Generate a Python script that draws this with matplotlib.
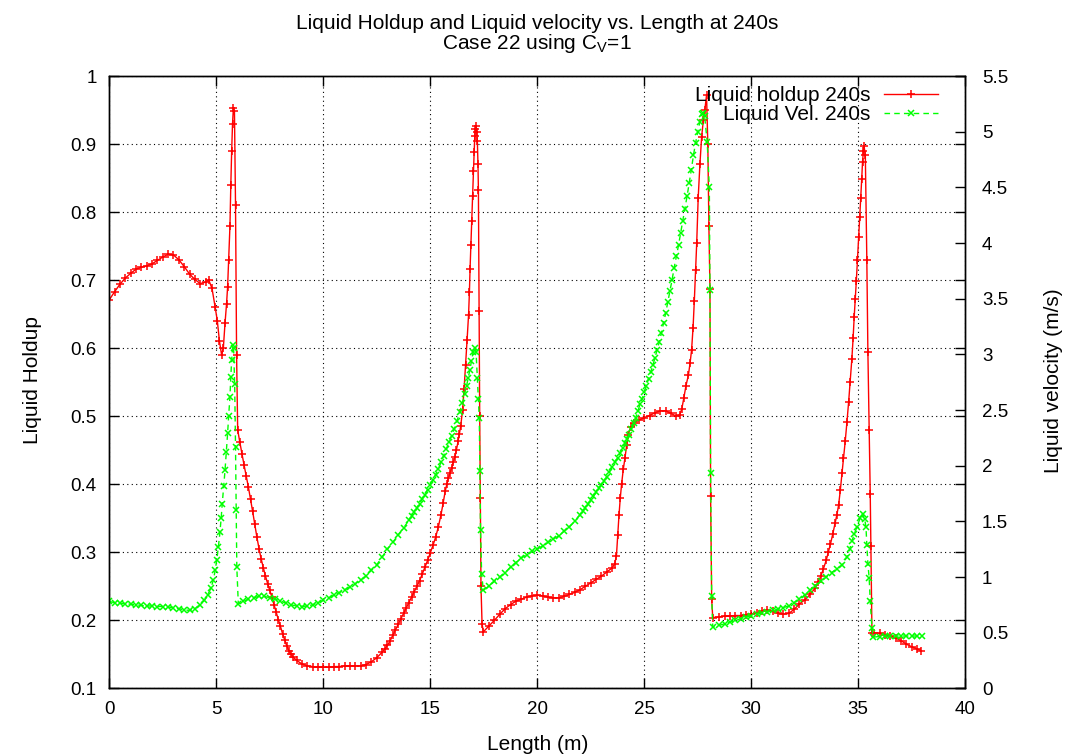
import numpy as np
import matplotlib
matplotlib.use("Agg")
import matplotlib.pyplot as plt
from matplotlib.ticker import FuncFormatter, MultipleLocator

plt.rcParams['font.family'] = ['Liberation Sans', 'DejaVu Sans']
plt.rcParams['mathtext.fontset'] = 'custom'
plt.rcParams['mathtext.rm'] = 'Liberation Sans'

# liquid holdup at 240s (left axis)
x_hold = [0.0, 0.25, 0.5, 0.75, 1.0, 1.25, 1.5, 1.75, 2.0, 2.25, 2.5, 2.75, 3.0, 3.25, 3.5, 3.75,
          4.0, 4.25, 4.5, 4.65, 4.8, 4.95, 5.05, 5.15, 5.25, 5.33, 5.41, 5.48, 5.53, 5.58, 5.64,
          5.68, 5.72, 5.76, 5.80, 5.85, 5.90, 5.95, 6.0, 6.1, 6.2, 6.3, 6.4, 6.5, 6.6, 6.7, 6.8,
          6.9, 7.0, 7.1, 7.2, 7.3, 7.4, 7.5, 7.6, 7.7, 7.8, 7.9, 8.0, 8.1, 8.2, 8.3, 8.4, 8.5,
          8.6, 8.75, 9.0, 9.25, 9.5, 9.75, 10.0, 10.25, 10.5, 10.75, 11.0, 11.25, 11.5, 11.75,
          12.0, 12.25, 12.5, 12.75, 12.875, 13.0, 13.125, 13.25, 13.375, 13.5, 13.625, 13.75,
          13.875, 14.0, 14.125, 14.25, 14.375, 14.5, 14.625, 14.75, 14.875, 15.0, 15.125, 15.25,
          15.375, 15.5, 15.6, 15.7, 15.775, 15.85, 15.925, 16.0, 16.075, 16.15, 16.225, 16.3,
          16.36, 16.42, 16.51, 16.58, 16.65, 16.72, 16.79, 16.83, 16.86, 16.9, 16.94, 16.98,
          17.02, 17.05, 17.08, 17.11, 17.14, 17.17, 17.20, 17.23, 17.25, 17.28, 17.31, 17.34,
          17.37, 17.42, 17.48, 17.75, 18.0, 18.25, 18.5, 18.75, 19.0, 19.25, 19.5, 19.75, 20.0,
          20.25, 20.5, 20.75, 21.0, 21.25, 21.5, 21.75, 22.0, 22.25, 22.5, 22.75, 23.0, 23.25,
          23.5, 23.62, 23.7, 23.76, 23.82, 23.88, 23.94, 24.02, 24.1, 24.18, 24.25, 24.37, 24.5,
          24.75, 25.0, 25.25, 25.5, 25.75, 26.0, 26.25, 26.5, 26.65, 26.75, 26.85, 26.95, 27.06,
          27.14, 27.21, 27.28, 27.34, 27.40, 27.45, 27.52, 27.60, 27.68, 27.76, 27.83, 27.91,
          27.97, 28.02, 28.07, 28.10, 28.15, 28.20, 28.5, 28.75, 29.0, 29.25, 29.5, 29.75, 30.0,
          30.25, 30.5, 30.75, 31.0, 31.25, 31.5, 31.75, 32.0, 32.25, 32.5, 32.75, 33.0, 33.125,
          33.25, 33.375, 33.5, 33.6, 33.7, 33.81, 33.92, 34.0, 34.08, 34.16, 34.24, 34.31, 34.39,
          34.47, 34.55, 34.62, 34.7, 34.76, 34.81, 34.86, 34.91, 34.96, 35.02, 35.07, 35.12,
          35.16, 35.20, 35.24, 35.27, 35.33, 35.40, 35.45, 35.51, 35.56, 35.59, 35.64, 35.75,
          36.0, 36.25, 36.5, 36.75, 37.0, 37.25, 37.5, 37.75, 37.95]
holdup = [0.671, 0.683, 0.694, 0.703, 0.710, 0.716, 0.719, 0.721, 0.724, 0.729, 0.734, 0.738,
          0.737, 0.730, 0.720, 0.709, 0.701, 0.695, 0.697, 0.700, 0.688, 0.660, 0.640, 0.610,
          0.590, 0.600, 0.637, 0.665, 0.690, 0.730, 0.780, 0.840, 0.890, 0.930, 0.953, 0.948,
          0.810, 0.590, 0.480, 0.462, 0.445, 0.428, 0.412, 0.396, 0.378, 0.360, 0.341, 0.322,
          0.305, 0.290, 0.277, 0.265, 0.254, 0.244, 0.234, 0.223, 0.212, 0.201, 0.191, 0.180,
          0.171, 0.162, 0.155, 0.150, 0.146, 0.141, 0.136, 0.133, 0.132, 0.131, 0.131, 0.131,
          0.132, 0.132, 0.133, 0.133, 0.133, 0.133, 0.135, 0.139, 0.145, 0.153, 0.158, 0.163,
          0.170, 0.178, 0.186, 0.194, 0.202, 0.210, 0.218, 0.226, 0.234, 0.242, 0.250, 0.258,
          0.268, 0.278, 0.288, 0.299, 0.310, 0.322, 0.337, 0.355, 0.372, 0.390, 0.400, 0.409,
          0.417, 0.424, 0.432, 0.440, 0.451, 0.463, 0.474, 0.485, 0.509, 0.540, 0.575, 0.612,
          0.649, 0.683, 0.717, 0.752, 0.787, 0.824, 0.861, 0.888, 0.912, 0.922, 0.926, 0.918,
          0.905, 0.870, 0.832, 0.654, 0.500, 0.380, 0.250, 0.195, 0.183, 0.192, 0.200, 0.209,
          0.217, 0.223, 0.228, 0.231, 0.234, 0.236, 0.237, 0.236, 0.234, 0.233, 0.233, 0.235,
          0.238, 0.241, 0.245, 0.250, 0.255, 0.260, 0.265, 0.271, 0.277, 0.283, 0.295, 0.325,
          0.355, 0.380, 0.400, 0.422, 0.439, 0.458, 0.473, 0.484, 0.490, 0.494, 0.498, 0.501,
          0.505, 0.508, 0.508, 0.504, 0.500, 0.502, 0.510, 0.527, 0.545, 0.560, 0.578, 0.597,
          0.630, 0.670, 0.715, 0.754, 0.821, 0.870, 0.910, 0.935, 0.950, 0.972, 0.900, 0.780,
          0.687, 0.383, 0.231, 0.204, 0.205, 0.206, 0.206, 0.207, 0.207, 0.208, 0.209, 0.211,
          0.213, 0.215, 0.213, 0.210, 0.209, 0.210, 0.216, 0.224, 0.230, 0.238, 0.248, 0.256,
          0.265, 0.276, 0.288, 0.300, 0.312, 0.327, 0.343, 0.355, 0.369, 0.391, 0.416, 0.438,
          0.463, 0.491, 0.521, 0.551, 0.584, 0.615, 0.646, 0.672, 0.699, 0.730, 0.764, 0.793,
          0.821, 0.848, 0.874, 0.890, 0.897, 0.884, 0.730, 0.594, 0.479, 0.385, 0.309, 0.181,
          0.181, 0.181, 0.179, 0.177, 0.174, 0.170, 0.165, 0.161, 0.158, 0.155]

# liquid velocity at 240s (right axis, m/s)
x_vel = [0.0, 0.25, 0.5, 0.75, 1.0, 1.25, 1.5, 1.75, 2.0, 2.25, 2.5, 2.75, 3.0, 3.25, 3.5, 3.75,
         4.0, 4.25, 4.45, 4.6, 4.75, 4.86, 4.95, 5.02, 5.1, 5.17, 5.23, 5.28, 5.35, 5.41, 5.47,
         5.53, 5.58, 5.64, 5.68, 5.72, 5.77, 5.81, 5.86, 5.90, 5.93, 5.96, 6.03, 6.25, 6.5, 6.75,
         7.0, 7.25, 7.5, 7.75, 8.0, 8.25, 8.5, 8.75, 9.0, 9.25, 9.5, 9.75, 10.0, 10.25, 10.5,
         10.75, 11.0, 11.25, 11.5, 11.75, 12.0, 12.25, 12.5, 12.75, 13.0, 13.25, 13.5, 13.75,
         14.0, 14.125, 14.25, 14.375, 14.5, 14.625, 14.75, 14.875, 15.0, 15.125, 15.25, 15.375,
         15.5, 15.625, 15.75, 15.875, 16.0, 16.125, 16.25, 16.375, 16.5, 16.6, 16.7, 16.775,
         16.85, 16.925, 17.0, 17.08, 17.14, 17.2, 17.25, 17.29, 17.32, 17.35, 17.40, 17.48,
         17.75, 18.0, 18.25, 18.5, 18.75, 19.0, 19.25, 19.5, 19.75, 20.0, 20.25, 20.5, 20.75,
         21.0, 21.25, 21.5, 21.75, 22.0, 22.125, 22.25, 22.375, 22.5, 22.625, 22.75, 22.875,
         23.0, 23.125, 23.25, 23.375, 23.5, 23.625, 23.75, 23.875, 24.0, 24.1, 24.2, 24.3, 24.4,
         24.5, 24.6, 24.7, 24.8, 24.9, 25.0, 25.1, 25.2, 25.3, 25.4, 25.5, 25.6, 25.7, 25.8,
         25.9, 26.0, 26.1, 26.2, 26.3, 26.4, 26.5, 26.6, 26.7, 26.8, 26.9, 27.0, 27.1, 27.2,
         27.3, 27.4, 27.5, 27.6, 27.7, 27.76, 27.82, 27.94, 28.04, 28.07, 28.10, 28.15, 28.20,
         28.5, 28.75, 29.0, 29.25, 29.5, 29.75, 30.0, 30.25, 30.5, 30.75, 31.0, 31.25, 31.5,
         31.75, 32.0, 32.25, 32.5, 32.75, 33.0, 33.25, 33.5, 33.75, 34.0, 34.25, 34.47, 34.6,
         34.7, 34.82, 34.94, 35.09, 35.2, 35.3, 35.36, 35.40, 35.45, 35.51, 35.56, 35.64, 35.69,
         36.0, 36.25, 36.5, 36.75, 37.0, 37.25, 37.5, 37.75, 37.98]
velocity = [0.78, 0.77, 0.765, 0.76, 0.755, 0.75, 0.745, 0.74, 0.74, 0.735, 0.735, 0.73, 0.725,
            0.715, 0.705, 0.70, 0.715, 0.75, 0.79, 0.84, 0.90, 0.97, 1.06, 1.15, 1.27, 1.40,
            1.53, 1.66, 1.82, 1.96, 2.12, 2.29, 2.45, 2.62, 2.80, 2.95, 3.08, 3.06, 2.73, 2.17,
            1.60, 1.09, 0.76, 0.78, 0.80, 0.815, 0.825, 0.825, 0.815, 0.80, 0.785, 0.765, 0.75,
            0.74, 0.735, 0.74, 0.75, 0.77, 0.79, 0.81, 0.84, 0.86, 0.885, 0.91, 0.94, 0.97, 1.01,
            1.06, 1.11, 1.18, 1.25, 1.31, 1.38, 1.44, 1.51, 1.545, 1.58, 1.62, 1.66, 1.70, 1.74,
            1.785, 1.83, 1.87, 1.92, 1.97, 2.03, 2.09, 2.15, 2.21, 2.27, 2.33, 2.40, 2.48, 2.56,
            2.64, 2.72, 2.79, 2.86, 2.94, 3.02, 3.06, 3.02, 2.79, 2.60, 2.43, 1.95, 1.42, 1.03,
            0.88, 0.92, 0.96, 1.00, 1.04, 1.09, 1.13, 1.17, 1.20, 1.23, 1.25, 1.28, 1.31, 1.34,
            1.37, 1.41, 1.45, 1.50, 1.56, 1.59, 1.62, 1.655, 1.69, 1.725, 1.76, 1.795, 1.83,
            1.865, 1.90, 1.945, 1.99, 2.03, 2.07, 2.115, 2.16, 2.20, 2.24, 2.28, 2.33, 2.38, 2.43,
            2.49, 2.55, 2.60, 2.66, 2.72, 2.78, 2.84, 2.90, 2.97, 3.04, 3.11, 3.19, 3.28, 3.37,
            3.47, 3.57, 3.67, 3.78, 3.88, 3.98, 4.09, 4.20, 4.31, 4.42, 4.54, 4.66, 4.79, 4.90,
            5.00, 5.09, 5.16, 5.17, 5.14, 4.91, 4.50, 3.58, 1.93, 0.83, 0.55, 0.565, 0.58, 0.595,
            0.61, 0.625, 0.64, 0.65, 0.665, 0.675, 0.685, 0.70, 0.71, 0.725, 0.74, 0.77, 0.80,
            0.84, 0.88, 0.92, 0.96, 1.00, 1.04, 1.07, 1.11, 1.18, 1.25, 1.32, 1.39, 1.45, 1.53,
            1.57, 1.52, 1.45, 1.29, 1.12, 0.99, 0.78, 0.54, 0.46, 0.465, 0.47, 0.47, 0.47, 0.47,
            0.47, 0.47, 0.47, 0.47]

fig = plt.figure(figsize=(10.66, 7.55), dpi=100)
ax1 = fig.add_axes([0.1025, 0.0883, 0.8030, 0.8110])
ax2 = ax1.twinx()

fs = 15
tfs = 13.5

l1, = ax1.plot(x_hold, holdup, color='#ff0000', lw=1.0, marker='+', ms=6, mew=1.1,
               label='Liquid holdup 240s')
l2, = ax2.plot(x_vel, velocity, color='#00ff00', lw=1.0, ls=(0, (4, 3)), marker='x', ms=4.5,
               mew=1.1, label='Liquid Vel. 240s')

ax1.set_xlim(0, 40)
ax1.set_ylim(0.1, 1.0)
ax2.set_ylim(0, 5.5)
ax1.xaxis.set_major_locator(MultipleLocator(5))
ax1.yaxis.set_major_locator(MultipleLocator(0.1))
ax2.yaxis.set_major_locator(MultipleLocator(0.5))
fmt = FuncFormatter(lambda v, p: '%g' % round(v, 3))
ax1.xaxis.set_major_formatter(fmt)
ax1.yaxis.set_major_formatter(fmt)
ax2.yaxis.set_major_formatter(fmt)

ax1.grid(True, color='black', lw=0.8, ls=(0, (1, 3)))
ax1.set_axisbelow(True)
ax1.tick_params(direction='in', length=7, width=1, top=True, right=True, labelsize=tfs, pad=9)
ax2.tick_params(direction='in', length=7, width=1, labelsize=tfs, pad=12)
for ax in (ax1, ax2):
    for s in ax.spines.values():
        s.set_linewidth(1.0)

ax1.set_xlabel('Length (m)', fontsize=fs)
ax1.set_ylabel('Liquid Holdup', fontsize=fs)
ax2.set_ylabel('Liquid velocity (m/s)', fontsize=fs)
ax1.xaxis.set_label_coords(0.5, -0.0763)
ax1.yaxis.set_label_coords(-0.078, 0.503)
ax2.yaxis.set_label_coords(1.0915, 0.503)

fig.text(0.504, 0.969, 'Liquid Holdup and Liquid velocity vs. Length at 240s', ha='center',
         va='center', fontsize=fs)
fig.text(0.504, 0.943, r'Case 22 using C$_\mathregular{V}$=1', ha='center', va='center',
         fontsize=fs)

ax2.legend(handles=[l1, l2], loc='upper right', bbox_to_anchor=(0.9855, 1.0075),
           frameon=False, markerfirst=False, numpoints=1, fontsize=fs, handlelength=2.6,
           handletextpad=0.67, labelspacing=0.0, borderaxespad=0.3)

fig.savefig('out.png', dpi=100)
